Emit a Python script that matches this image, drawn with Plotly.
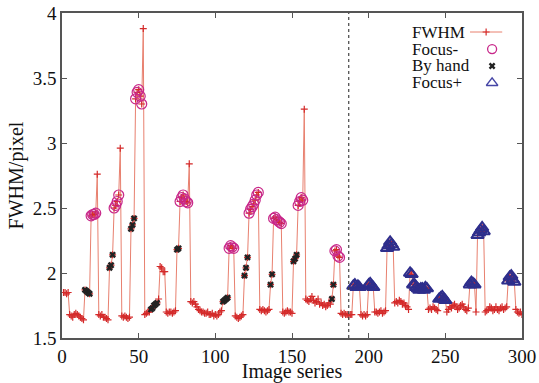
import plotly.graph_objects as go

# ---- data ----
image_index = list(range(1, 301))

fwhm = [
    # 1-14
    1.85, 1.85, 1.84, 1.85, 1.68, 1.67, 1.66, 1.68, 1.69, 1.68, 1.67, 1.66, 1.65, 1.64,
    # 15-23
    1.87, 1.86, 1.85, 1.84, 2.44, 2.45, 2.45, 2.46, 2.76,
    # 24-30
    1.68, 1.67, 1.68, 1.66, 1.66, 1.65, 1.64,
    # 31-38
    2.04, 2.06, 2.14, 2.50, 2.52, 2.55, 2.60, 2.96,
    # 39-44
    1.67, 1.66, 1.67, 1.66, 1.65, 1.66,
    # 45-53
    2.34, 2.37, 2.42, 3.34, 3.39, 3.41, 3.36, 3.30, 3.88,
    # 54-63
    1.68, 1.69, 1.70, 1.70, 1.72, 1.73, 1.75, 1.76, 1.77, 1.80,
    # 64-74
    2.05, 2.04, 2.01, 2.01, 1.70, 1.69, 1.70, 1.70, 1.69, 1.70, 1.71,
    # 75-83
    2.18, 2.19, 2.55, 2.58, 2.60, 2.57, 2.55, 2.54, 2.84,
    # 84-104
    1.78, 1.77, 1.78, 1.76, 1.74, 1.72, 1.71, 1.70, 1.70, 1.69, 1.69, 1.70, 1.68, 1.68,
    1.69, 1.67, 1.68, 1.67, 1.68, 1.70, 1.71,
    # 105-112
    1.78, 1.79, 1.80, 1.81, 2.19, 2.21, 2.20, 2.19,
    # 113-118
    1.67, 1.66, 1.65, 1.66, 1.67, 1.68,
    # 119-128
    1.98, 2.04, 2.12, 2.46, 2.49, 2.51, 2.53, 2.56, 2.60, 2.62,
    # 129-135
    1.72, 1.71, 1.72, 1.71, 1.70, 1.71, 1.72,
    # 136-143
    1.91, 1.99, 2.42, 2.43, 2.41, 2.40, 2.39, 2.38,
    # 144-150
    1.70, 1.69, 1.70, 1.71, 1.70, 1.70, 1.69,
    # 151-158
    2.09, 2.11, 2.14, 2.52, 2.55, 2.58, 2.56, 3.26,
    # 159-175
    1.80, 1.79, 1.78, 1.80, 1.82, 1.79, 1.77, 1.78, 1.80, 1.76, 1.77, 1.75, 1.76, 1.74,
    1.75, 1.77, 1.76,
    # 176-181
    1.80, 1.91, 2.17, 2.18, 2.13, 2.12,
    # 182-189
    1.69, 1.68, 1.69, 1.68, 1.68, 1.67, 1.68, 1.68,
    # 190-194
    1.90, 1.91, 1.89, 1.90, 1.89,
    # 195-199
    1.68, 1.67, 1.68, 1.67, 1.68,
    # 200-203
    1.91, 1.92, 1.90, 1.89,
    # 204-211
    1.70, 1.70, 1.69, 1.70, 1.71, 1.69, 1.70, 1.71,
    # 212-216
    2.19, 2.21, 2.24, 2.22, 2.20,
    # 217-226
    1.77, 1.78, 1.77, 1.79, 1.78, 1.76, 1.77, 1.75, 1.74, 1.72,
    # 227-238
    2.00, 1.99, 1.91, 1.91, 1.89, 1.88, 1.87, 1.88, 1.88, 1.87, 1.89, 1.88,
    # 239-245
    1.72, 1.73, 1.72, 1.74, 1.73, 1.72, 1.71,
    # 246-250
    1.80, 1.81, 1.82, 1.80, 1.79,
    # 251-265
    1.70, 1.72, 1.74, 1.73, 1.75, 1.76, 1.74, 1.72, 1.73, 1.75, 1.76, 1.74, 1.72, 1.71, 1.73,
    # 266-270
    1.91, 1.93, 1.92, 1.91, 1.70,
    # 271-275
    2.29, 2.31, 2.33, 2.35, 2.32,
    # 276-290
    1.70, 1.71, 1.72, 1.74, 1.73, 1.71, 1.72, 1.74, 1.72, 1.71, 1.73, 1.74, 1.72, 1.73, 1.74,
    # 291-295
    1.94, 1.97, 1.98, 1.95, 1.93,
    # 296-300
    1.72, 1.70, 1.69, 1.70, 1.68,
]

focus_minus_idx = [19, 20, 21, 22, 34, 35, 36, 37, 48, 49, 50, 51, 52,
                   77, 78, 79, 80, 81, 82, 109, 110, 111, 112,
                   122, 123, 124, 125, 126, 127, 128, 138, 139, 140, 141, 142, 143,
                   154, 155, 156, 157, 178, 179, 180, 181]
by_hand_idx = [15, 16, 17, 18, 31, 32, 33, 45, 46, 47, 58, 59, 60, 61, 62,
               75, 76, 105, 106, 107, 108, 119, 120, 121, 136, 137,
               151, 152, 153, 176, 177]
focus_plus_idx = [190, 191, 192, 193, 194, 200, 201, 202, 203,
                  212, 213, 214, 215, 216, 227, 228, 229, 230, 231, 232, 233,
                  234, 235, 236, 237, 238, 246, 247, 248, 249, 250,
                  266, 267, 268, 269, 271, 272, 273, 274, 275,
                  291, 292, 293, 294, 295]

divider_x = 187
x_ticks = [0, 50, 100, 150, 200, 250, 300]
y_ticks = [1.5, 2, 2.5, 3, 3.5, 4]
y_tick_text = ["1.5", "2", "2.5", "3", "3.5", "4"]
legend_labels = ["FWHM", "Focus-", "By hand", "Focus+"]

# ---- styles ----
FONT = "Liberation Serif, Times New Roman, serif"
RED_LINE = "#e8806f"
RED_PT = "#d42a2a"
PINK = "#c8288a"
BLACK = "#222222"
BLUE = "#2e2e8c"
KEY_BLUE = "#4646a6"
FRAME = "#555555"


def sel(idx):
    return [i for i in idx], [fwhm[i - 1] for i in idx]


fig = go.Figure()
fig.add_trace(go.Scatter(
    x=image_index, y=fwhm, mode="lines+markers", name="FWHM",
    line=dict(color=RED_LINE, width=1),
    marker=dict(symbol="cross-thin", size=5, line=dict(color=RED_PT, width=1.2), color=RED_PT),
    showlegend=False))

fx, fy = sel(focus_minus_idx)
fig.add_trace(go.Scatter(
    x=fx, y=fy, mode="markers", name="Focus-",
    marker=dict(symbol="circle-open", size=10, line=dict(color=PINK, width=1.2), color=PINK),
    showlegend=False))

bx, by = sel(by_hand_idx)
fig.add_trace(go.Scatter(
    x=bx, y=by, mode="markers", name="By hand",
    marker=dict(symbol="x", size=6, color=BLACK, line=dict(width=0)),
    showlegend=False))

px_, py_ = sel(focus_plus_idx)
fig.add_trace(go.Scatter(
    x=px_, y=py_, mode="markers", name="Focus+",
    marker=dict(symbol="triangle-up-open", size=11, line=dict(color=BLUE, width=2), color=BLUE),
    showlegend=False))

# divider
fig.add_shape(type="line", x0=divider_x, x1=divider_x, y0=0, y1=1,
              xref="x", yref="paper",
              line=dict(color="#444444", width=1.2, dash="dot"))

# ---- gnuplot-style key (text left, sample right) on an overlay axis ----
key_rows_y = [0.9415, 0.889, 0.837, 0.785]
key_text_x = 0.757
key_sample_x = 0.935
for lbl, yy in zip(legend_labels, key_rows_y):
    fig.add_annotation(text=lbl, x=key_text_x, y=yy, xref="paper", yref="paper",
                       xanchor="left", yanchor="middle", showarrow=False,
                       font=dict(family=FONT, size=17, color="#111111"))

fig.add_trace(go.Scatter(x=[0.887, 0.957], y=[key_rows_y[0]] * 2, mode="lines",
                         line=dict(color=RED_LINE, width=1), xaxis="x2", yaxis="y2",
                         showlegend=False, hoverinfo="skip"))
fig.add_trace(go.Scatter(x=[0.922], y=[key_rows_y[0]], mode="markers",
                         marker=dict(symbol="cross-thin", size=5, color=RED_PT,
                                     line=dict(color=RED_PT, width=1.2)),
                         xaxis="x2", yaxis="y2", showlegend=False, hoverinfo="skip"))
fig.add_trace(go.Scatter(x=[key_sample_x], y=[key_rows_y[1]], mode="markers",
                         marker=dict(symbol="circle-open", size=9, color=PINK,
                                     line=dict(color=PINK, width=1.3)),
                         xaxis="x2", yaxis="y2", showlegend=False, hoverinfo="skip"))
fig.add_trace(go.Scatter(x=[key_sample_x], y=[key_rows_y[2]], mode="markers",
                         marker=dict(symbol="x", size=6, color=BLACK, line=dict(width=0)),
                         xaxis="x2", yaxis="y2", showlegend=False, hoverinfo="skip"))
fig.add_trace(go.Scatter(x=[key_sample_x], y=[key_rows_y[3]], mode="markers",
                         marker=dict(symbol="triangle-up-open", size=10, color=KEY_BLUE,
                                     line=dict(color=KEY_BLUE, width=1.5)),
                         xaxis="x2", yaxis="y2", showlegend=False, hoverinfo="skip"))

axis_common = dict(showline=True, linecolor=FRAME, linewidth=1.5, mirror="ticks",
                   ticks="inside", ticklen=5, tickwidth=1.2, tickcolor=FRAME,
                   showgrid=False, zeroline=False, automargin=False,
                   ticklabeloverflow="allow",
                   tickfont=dict(family=FONT, size=19, color="#111111"))

fig.update_layout(
    width=539, height=383,
    margin=dict(l=62, r=17, t=13, b=45, autoexpand=False),
    paper_bgcolor="white", plot_bgcolor="white",
    font=dict(family=FONT, color="#111111"),
    xaxis=dict(range=[0, 300], tickvals=x_ticks,
               title=dict(text="Image series", font=dict(family=FONT, size=20), standoff=0),
               **axis_common),
    yaxis=dict(range=[1.5, 4], tickvals=y_ticks, ticktext=y_tick_text,
               title=dict(text="FWHM/pixel", font=dict(family=FONT, size=20), standoff=4),
               **axis_common),
    xaxis2=dict(range=[0, 1], overlaying="x", visible=False, fixedrange=True),
    yaxis2=dict(range=[0, 1], overlaying="y", visible=False, fixedrange=True),
    showlegend=False,
)

# remove the default page margin so the 539x383 figure fills the window exactly
fig.write_html("out.html",
               config={"displayModeBar": False},
               post_script="document.body.style.margin='0px';document.body.style.overflow='hidden';")
